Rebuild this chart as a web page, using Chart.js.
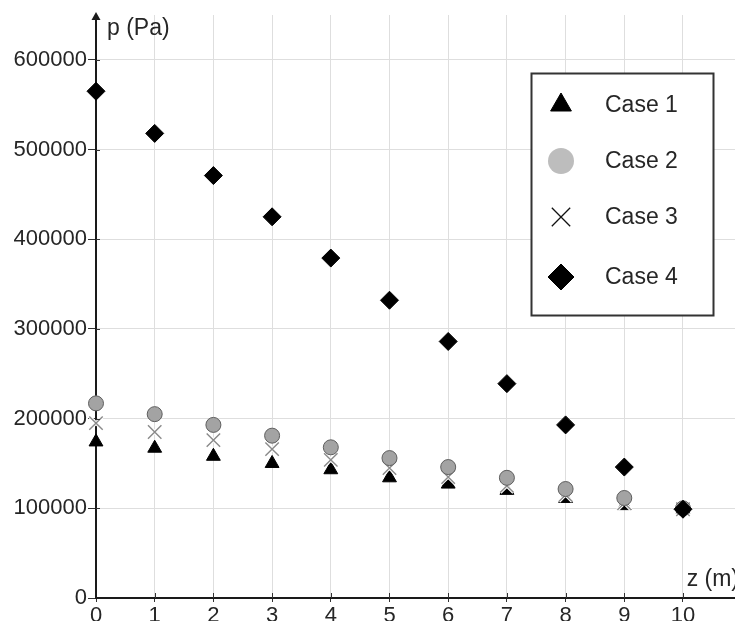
<!DOCTYPE html>
<html>
<head>
<meta charset="utf-8">
<script src="https://cdn.jsdelivr.net/npm/chart.js@4.4.1/dist/chart.umd.min.js"></script>
<style>
  html, body { margin: 0; padding: 0; background: #fff; overflow: hidden; }
  #wrap { width: 735px; height: 621px; overflow: hidden; position: relative; }
</style>
</head>
<body>
<div id="wrap"><canvas id="c" width="735" height="640"></canvas></div>
<script>
const zValues = [0, 1, 2, 3, 4, 5, 6, 7, 8, 9, 10];
const case1 = [174000, 167000, 158000, 150000, 143000, 134000, 127000, 120000, 111000, 103000, 99000];
const case2 = [217000, 205000, 193000, 181000, 168000, 156000, 146000, 134000, 121500, 111500, 100000];
const case3 = [195000, 185000, 176000, 166000, 154000, 145000, 135000, 125000, 115000, 106000, 99000];
const case4 = [565000, 518000, 471000, 425000, 379000, 332000, 286000, 239000, 193000, 146000, 99000];
const xTicks = [0, 1, 2, 3, 4, 5, 6, 7, 8, 9, 10];
const yTicks = [0, 100000, 200000, 300000, 400000, 500000, 600000];
const seriesNames = ['Case 1', 'Case 2', 'Case 3', 'Case 4'];
const xTitle = 'z (m)';
const yTitle = 'p (Pa)';

const pts = arr => arr.map((v, i) => ({ x: zValues[i], y: v }));
const FONT = '"Liberation Sans", Arial, sans-serif';
const TXT = '#262626';

const extras = {
  id: 'extras',
  afterDraw(chart) {
    const ctx = chart.ctx;
    const a = chart.chartArea;
    const xs = chart.scales.x, ys = chart.scales.y;
    ctx.save();
    // inner half of tick marks (ticks cross the axes)
    ctx.strokeStyle = '#333';
    ctx.lineWidth = 1;
    ctx.beginPath();
    xTicks.forEach(v => {
      const px = Math.round(xs.getPixelForValue(v)) + 0.5;
      if (v !== 0) { ctx.moveTo(px, a.bottom); ctx.lineTo(px, a.bottom - 5); }
    });
    yTicks.forEach(v => {
      const py = Math.round(ys.getPixelForValue(v)) + 0.5;
      if (v !== 0) { ctx.moveTo(a.left, py); ctx.lineTo(a.left + 4, py); }
    });
    ctx.stroke();
    // arrow at top of y axis
    ctx.fillStyle = '#1a1a1a';
    ctx.beginPath();
    ctx.moveTo(a.left, a.top - 3);
    ctx.lineTo(a.left - 4.5, a.top + 5);
    ctx.lineTo(a.left + 4.5, a.top + 5);
    ctx.closePath();
    ctx.fill();
    // axis titles
    ctx.fillStyle = TXT;
    ctx.font = '23px ' + FONT;
    ctx.textBaseline = 'middle';
    ctx.textAlign = 'left';
    ctx.fillText(yTitle, 107, 29);
    ctx.textAlign = 'right';
    ctx.fillText(xTitle, 739, 580);
    // legend box
    const bx = 531.5, by = 73.5, bw = 182, bh = 242;
    ctx.fillStyle = '#fff';
    ctx.fillRect(bx, by, bw, bh);
    ctx.strokeStyle = '#333';
    ctx.lineWidth = 2;
    ctx.strokeRect(bx, by, bw, bh);
    const rows = [105, 161, 217, 277];
    const styles = [
      { pointStyle: 'triangle', radius: 12, borderWidth: 1, fill: '#000', stroke: '#000' },
      { pointStyle: 'circle', radius: 13, borderWidth: 0, fill: '#bdbdbd', stroke: '#bdbdbd' },
      { pointStyle: 'crossRot', radius: 13, borderWidth: 1.3, fill: '#000', stroke: '#111' },
      { pointStyle: 'rectRot', radius: 13, borderWidth: 1, fill: '#000', stroke: '#000' }
    ];
    styles.forEach((s, i) => {
      ctx.fillStyle = s.fill;
      ctx.strokeStyle = s.stroke;
      ctx.lineWidth = s.borderWidth;
      Chart.helpers.drawPoint(ctx, { pointStyle: s.pointStyle, radius: s.radius, rotation: 0, borderWidth: s.borderWidth }, 561, rows[i]);
      ctx.fillStyle = TXT;
      ctx.font = '23px ' + FONT;
      ctx.textAlign = 'left';
      ctx.textBaseline = 'middle';
      ctx.fillText(seriesNames[i], 605, rows[i] + 1);
    });
    ctx.restore();
  }
};

new Chart(document.getElementById('c'), {
  type: 'scatter',
  data: {
    datasets: [
      { label: seriesNames[3], data: pts(case4), order: 0, pointStyle: 'rectRot', radius: 9,
        backgroundColor: '#000', borderColor: '#000', borderWidth: 1, clip: false },
      { label: seriesNames[1], data: pts(case2), order: 1, pointStyle: 'circle', radius: 7.5,
        backgroundColor: '#a3a3a3', borderColor: '#5e5e5e', borderWidth: 1, clip: false },
      { label: seriesNames[2], data: pts(case3), order: 2, pointStyle: 'crossRot', radius: 9.5,
        backgroundColor: '#8a8a8a', borderColor: '#8a8a8a', borderWidth: 1.4, clip: false },
      { label: 'halo', data: pts(case3), order: 3, pointStyle: 'crossRot', radius: 9.5,
        backgroundColor: '#fff', borderColor: '#fff', borderWidth: 3.5, clip: false },
      { label: seriesNames[0], data: pts(case1), order: 4, pointStyle: 'triangle', radius: 8,
        backgroundColor: '#000', borderColor: '#000', borderWidth: 1, clip: false }
    ]
  },
  options: {
    responsive: false,
    animation: false,
    events: [],
    layout: { autoPadding: false, padding: { top: 15, right: 0, left: 0, bottom: 0 } },
    plugins: { legend: { display: false }, tooltip: { enabled: false }, title: { display: false } },
    scales: {
      x: {
        type: 'linear', min: 0, max: 10.886,
        afterFit(s) { s.height = 42; s.paddingLeft = 0; s.paddingRight = 0; },
        afterBuildTicks(s) { s.ticks = xTicks.map(v => ({ value: v })); },
        ticks: { autoSkip: false, maxRotation: 0, minRotation: 0, padding: 1,
          color: TXT, font: { family: FONT, size: 22 }, callback: v => String(v) },
        grid: { color: '#dedede', lineWidth: 1, tickLength: 4, tickColor: '#333', drawTicks: true },
        border: { color: '#1a1a1a', width: 2 }
      },
      y: {
        type: 'linear', min: 0, max: 650000,
        afterFit(s) { s.width = 96; s.paddingTop = 0; s.paddingBottom = 0; },
        afterBuildTicks(s) { s.ticks = yTicks.map(v => ({ value: v })); },
        ticks: { autoSkip: false, padding: 1, color: TXT,
          font: { family: FONT, size: 22 }, callback: v => String(v) },
        grid: { color: '#dedede', lineWidth: 1, tickLength: 8, tickColor: '#333' },
        border: { color: '#1a1a1a', width: 2 }
      }
    }
  },
  plugins: [extras]
});
</script>
</body>
</html>
